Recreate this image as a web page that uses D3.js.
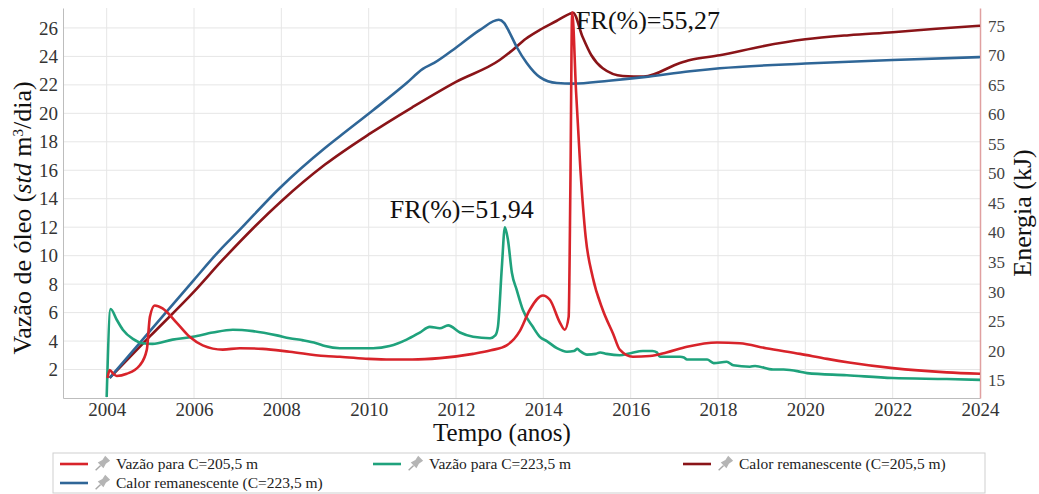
<!DOCTYPE html>
<html>
<head>
<meta charset="utf-8">
<script src="https://cdn.jsdelivr.net/npm/d3@7"></script>
<style>
  body { margin: 0; background: #fff; }
  svg text { font-family: "Liberation Serif", "Times New Roman", serif; }
</style>
</head>
<body>
<div id="chart"></div>
<script>
// tick values
const xTicks = [2004, 2006, 2008, 2010, 2012, 2014, 2016, 2018, 2020, 2022, 2024];
const leftTicks = [2, 4, 6, 8, 10, 12, 14, 16, 18, 20, 22, 24, 26];
const rightTicks = [15, 20, 25, 30, 35, 40, 45, 50, 55, 60, 65, 70, 75];

// Vazão para C=205,5 m (left axis)
const red205Years = [2004.02, 2004.07, 2004.15, 2004.23, 2004.46, 2004.76, 2004.92, 2004.99, 2005.1, 2005.28, 2005.6, 2005.9, 2006.2, 2006.66, 2007.05, 2007.57, 2008.19, 2009, 2009.34, 2010, 2010.5, 2011, 2011.63, 2012.39, 2012.8, 2013.16, 2013.46, 2013.69, 2013.99, 2014.15, 2014.38, 2014.49, 2014.58, 2014.62, 2014.66, 2014.75, 2014.85, 2014.97, 2015.13, 2015.36, 2015.6, 2015.75, 2016.05, 2016.44, 2016.82, 2017.29, 2017.98, 2018.5, 2019.1, 2019.88, 2020.5, 2021, 2022, 2023.24, 2024];
const red205Values = [1.4, 1.97, 1.7, 1.55, 1.7, 2.3, 3.4, 5.7, 6.5, 6.3, 5.3, 4.3, 3.7, 3.4, 3.5, 3.45, 3.25, 2.95, 2.9, 2.75, 2.7, 2.7, 2.8, 3.1, 3.35, 3.7, 4.7, 6.2, 7.2, 6.9, 5.3, 4.8, 5.7, 15, 27.1, 21.5, 16.0, 11.3, 8.5, 6.2, 4.5, 3.4, 2.9, 2.95, 3.2, 3.6, 3.9, 3.85, 3.5, 3.1, 2.75, 2.5, 2.1, 1.8, 1.7];

// Vazão para C=223,5 m (left axis)
const green223Years = [2004.0, 2004.09, 2004.23, 2004.37, 2004.6, 2004.82, 2005.05, 2005.51, 2005.97, 2006.43, 2006.89, 2007.35, 2007.9, 2008.19, 2008.5, 2008.8, 2009, 2009.34, 2010.1, 2010.48, 2010.87, 2011.17, 2011.4, 2011.63, 2011.82, 2012.09, 2012.39, 2012.78, 2012.9, 2012.96, 2013.05, 2013.12, 2013.19, 2013.28, 2013.39, 2013.53, 2013.76, 2013.92, 2014.08, 2014.31, 2014.54, 2014.7, 2014.78, 2014.84, 2015.0, 2015.2, 2015.3, 2015.45, 2015.75, 2016.0, 2016.28, 2016.5, 2016.6, 2016.67, 2017.13, 2017.22, 2017.29, 2017.75, 2017.9, 2018.2, 2018.35, 2018.73, 2018.85, 2019.26, 2019.5, 2019.88, 2020.04, 2020.95, 2022.0, 2023.24, 2024];
const green223Values = [0.07, 6.25, 5.5, 4.8, 4.15, 3.85, 3.8, 4.1, 4.3, 4.6, 4.8, 4.7, 4.4, 4.2, 4.05, 3.85, 3.65, 3.5, 3.5, 3.65, 4.1, 4.6, 5.0, 4.9, 5.1, 4.6, 4.3, 4.2, 4.4, 5.0, 9.2, 12.0, 11.1, 8.8, 7.6, 6.2, 5.0, 4.3, 4.0, 3.5, 3.25, 3.3, 3.45, 3.3, 3.05, 3.1, 3.2, 3.1, 3.0, 3.15, 3.3, 3.3, 3.2, 2.9, 2.9, 2.85, 2.7, 2.7, 2.45, 2.55, 2.3, 2.2, 2.25, 2.0, 2.0, 1.85, 1.75, 1.6, 1.4, 1.33, 1.27];

// Calor remanescente (C=205,5 m) (right axis, kJ)
const heat205Years = [2004.07, 2005, 2006, 2006.66, 2008, 2009, 2010, 2011, 2012, 2013.0, 2013.3, 2013.6, 2013.92, 2014.3, 2014.6, 2014.68, 2014.9, 2015.1, 2015.36, 2015.82, 2016.3, 2017.13, 2017.36, 2018.04, 2019, 2020, 2021, 2022, 2023, 2024];
const heat205Values = [15.4, 22.5, 30.0, 35.4, 45.3, 51.5, 56.6, 61.2, 65.5, 69.2, 70.9, 72.8, 74.3, 75.8, 77.0, 77.2, 73.1, 70.0, 67.8, 66.5, 66.4, 68.7, 69.2, 70.0, 71.5, 72.7, 73.4, 73.9, 74.5, 75.0];

// Calor remanescente (C=223,5 m) (right axis, kJ)
const heat223Years = [2004.07, 2005, 2006, 2006.59, 2007, 2007.96, 2009, 2009.34, 2010.1, 2010.87, 2011.24, 2011.5, 2012.02, 2012.55, 2012.98, 2013.1, 2013.23, 2013.39, 2013.62, 2013.92, 2014.31, 2014.68, 2015.5, 2016.3, 2017.36, 2018.04, 2020, 2022, 2024];
const heat223Values = [15.4, 23.4, 32.0, 37.0, 40.1, 47.5, 54.3, 56.3, 60.7, 65.3, 67.7, 68.7, 71.4, 74.3, 76.0, 75.5, 73.8, 71.4, 68.7, 66.3, 65.3, 65.2, 65.7, 66.3, 67.3, 67.8, 68.6, 69.2, 69.7];

const width = 1039, height = 494;
const margin = {top: 8, right: 59, bottom: 96, left: 63};
const plotW = width - margin.left - margin.right;
const plotH = height - margin.top - margin.bottom;
const serif = '"Liberation Serif", "Times New Roman", serif';

const svg = d3.select("#chart").append("svg")
    .attr("width", width)
    .attr("height", height);

svg.append("rect").attr("width", width).attr("height", height).attr("fill", "#fff");

const g = svg.append("g")
    .attr("transform", `translate(${margin.left},${margin.top})`);

const x = d3.scaleLinear().domain([2003, 2024]).range([0, plotW]);
const yLeft = d3.scaleLinear().domain([0, 27.4]).range([plotH, 0]);
const yRight = d3.scaleLinear().domain([12, 78]).range([plotH, 0]);

// grid
g.append("g")
    .selectAll("line")
    .data(leftTicks)
    .enter().append("line")
    .attr("x1", 0).attr("x2", plotW)
    .attr("y1", d => yLeft(d)).attr("y2", d => yLeft(d))
    .attr("stroke", "#e6e6e6").attr("stroke-width", 1);

g.append("g")
    .selectAll("line")
    .data(xTicks.slice(0, -1))
    .enter().append("line")
    .attr("x1", d => x(d)).attr("x2", d => x(d))
    .attr("y1", 0).attr("y2", plotH)
    .attr("stroke", "#e6e6e6").attr("stroke-width", 1);

// axes
const xAxis = g.append("g")
    .attr("transform", `translate(0,${plotH})`)
    .call(d3.axisBottom(x).tickValues(xTicks).tickFormat(d3.format("d")).tickSize(0).tickPadding(5));
xAxis.attr("font-family", null);
xAxis.select(".domain").attr("stroke", "#bdbdbd");
xAxis.selectAll("text").style("font-size", "19px").attr("fill", "#333")
    .style("font-family", serif);

const leftAxis = g.append("g")
    .call(d3.axisLeft(yLeft).tickValues(leftTicks).tickSize(0).tickPadding(5));
leftAxis.attr("font-family", null);
leftAxis.select(".domain").attr("stroke", "#bdbdbd");
leftAxis.selectAll("text").style("font-size", "19px").attr("fill", "#333")
    .style("font-family", serif);

const rightAxis = g.append("g")
    .attr("transform", `translate(${plotW},0)`)
    .call(d3.axisRight(yRight).tickValues(rightTicks).tickSize(0).tickPadding(8));
rightAxis.attr("font-family", null);
rightAxis.select(".domain").attr("stroke", "#e0a0a0").attr("stroke-width", 1.5);
rightAxis.selectAll("text").style("font-size", "17px").attr("fill", "#444")
    .style("font-family", serif);

// lines
function drawSeries(years, values, scale, color) {
    const pts = years.map((yr, i) => [yr, values[i]]);
    const line = d3.line()
        .x(d => x(d[0]))
        .y(d => scale(d[1]))
        .curve(d3.curveMonotoneX);
    g.append("path")
        .datum(pts)
        .attr("fill", "none")
        .attr("stroke", color)
        .attr("stroke-width", 2.6)
        .attr("stroke-linejoin", "round")
        .attr("d", line);
}

const colors = {
    red205: "#d8232a",
    green223: "#1fa27c",
    heat205: "#8a1418",
    heat223: "#2f6697"
};

drawSeries(heat205Years, heat205Values, yRight, colors.heat205);
drawSeries(heat223Years, heat223Values, yRight, colors.heat223);
drawSeries(green223Years, green223Values, yLeft, colors.green223);
drawSeries(red205Years, red205Values, yLeft, colors.red205);

// annotations
g.append("text")
    .attr("x", x(2012.13)).attr("y", yLeft(12.65))
    .attr("text-anchor", "middle")
    .style("font-size", "26px").attr("fill", "#111")
    .text("FR(%)=51,94");

g.append("text")
    .attr("x", x(2014.75)).attr("y", 21)
    .attr("text-anchor", "start")
    .style("font-size", "26px").attr("fill", "#111")
    .text("FR(%)=55,27");

// axis titles
svg.append("text")
    .attr("transform", "translate(31,218) rotate(-90)")
    .attr("text-anchor", "middle")
    .style("font-size", "26px").attr("fill", "#111")
    .html('Vazão de óleo (<tspan font-style="italic">std</tspan> m<tspan baseline-shift="super" font-size="15px">3</tspan>/dia)');

svg.append("text")
    .attr("transform", "translate(1031,213) rotate(-90)")
    .attr("text-anchor", "middle")
    .style("font-size", "26px").attr("fill", "#111")
    .text("Energia (kJ)");

svg.append("text")
    .attr("x", 502).attr("y", 441)
    .attr("text-anchor", "middle")
    .style("font-size", "25px").attr("fill", "#111")
    .text("Tempo (anos)");

// legend
const legendItems = [
    {label: "Vazão para C=205,5 m", color: colors.red205, col: 0, row: 0},
    {label: "Vazão para C=223,5 m", color: colors.green223, col: 1, row: 0},
    {label: "Calor remanescente (C=205,5 m)", color: colors.heat205, col: 2, row: 0},
    {label: "Calor remanescente (C=223,5 m)", color: colors.heat223, col: 0, row: 1}
];
const legendX = [60, 373, 683];

svg.append("rect")
    .attr("x", 53).attr("y", 453)
    .attr("width", 932).attr("height", 40)
    .attr("fill", "#fff")
    .attr("stroke", "#cfcfcf");

const leg = svg.append("g")
    .selectAll("g")
    .data(legendItems)
    .enter().append("g")
    .attr("transform", d => `translate(${legendX[d.col]},${464 + d.row * 19})`);

leg.append("line")
    .attr("x1", 0).attr("x2", 28)
    .attr("stroke", d => d.color).attr("stroke-width", 2.6);

// little pin icon
const pin = leg.append("g").attr("transform", "translate(42,0) rotate(45)");
pin.append("line")
    .attr("x1", 0).attr("y1", 9).attr("x2", 0).attr("y2", 2)
    .attr("stroke", "#a8a8a8").attr("stroke-width", 1.4);
pin.append("path")
    .attr("d", "M-4,2 L4,2 L2.5,-3 L3.5,-8 L-3.5,-8 L-2.5,-3 Z")
    .attr("fill", "#b5b5b5");

leg.append("text")
    .attr("x", 56).attr("y", 5)
    .style("font-size", "15.5px").attr("fill", "#222")
    .text(d => d.label);
</script>
</body>
</html>
